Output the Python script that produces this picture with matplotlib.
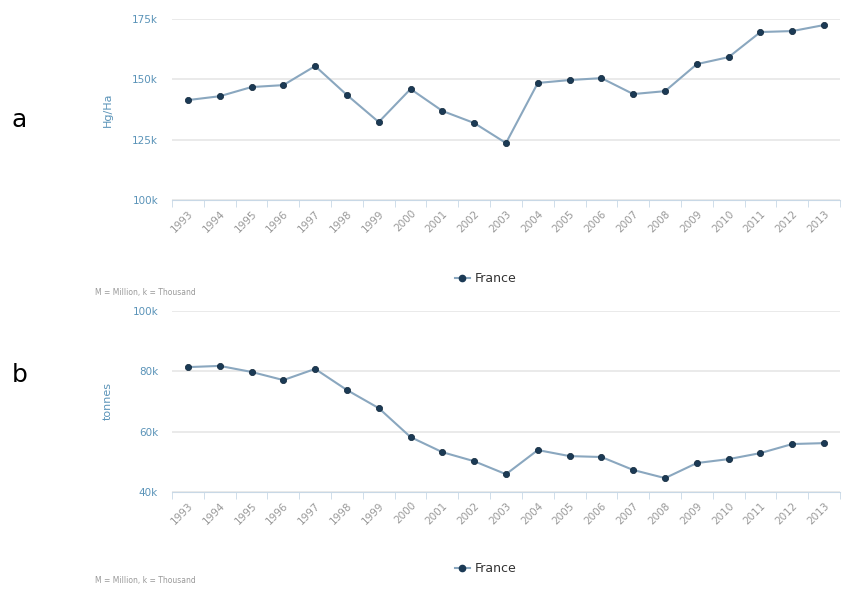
import matplotlib
matplotlib.use("Agg")
import matplotlib.pyplot as plt
import numpy as np

years = [str(y) for y in range(1993, 2014)]
yield_hgha = [141.4, 143.0, 146.8, 147.6, 155.5, 143.5, 132.3, 146.0, 136.9, 131.9, 123.6,
              148.5, 149.7, 150.5, 143.9, 145.1, 156.3, 159.2, 169.6, 170.0, 172.5]
prod_tonnes = [81.4, 81.8, 79.8, 77.1, 80.8, 73.8, 67.8, 58.2, 53.2, 50.2, 45.9,
               53.9, 51.9, 51.6, 47.3, 44.6, 49.6, 50.9, 52.9, 55.9, 56.2]
yticks_a = [100, 125, 150, 175]
yticks_b = [40, 60, 80, 100]
series_name = "France"
note = "M = Million, k = Thousand"

W, H = 854, 589
fig = plt.figure(figsize=(W / 100, H / 100), dpi=100)
fig.patch.set_facecolor("white")

LINE = "#8aa7bf"
MARK = "#1b3a55"
TICKC = "#5a93b8"
XLAB = "#999999"

def px_axes(x0, y0, x1, y1):
    return fig.add_axes([x0 / W, 1 - y1 / H, (x1 - x0) / W, (y1 - y0) / H])

def draw(ax, vals, yticks, ylabel):
    x = np.arange(len(years))
    ax.plot(x, vals, color=LINE, lw=1.5, zorder=3)
    ax.plot(x, vals, 'o', color=MARK, ms=4.5, zorder=4, markeredgecolor="#0f2538", markeredgewidth=0.5)
    ax.set_xlim(-0.43, len(years) - 1 + 0.15)
    ax.set_ylim(yticks[0], yticks[-1])
    ax.set_yticks(yticks)
    ax.set_yticklabels([f"{v}k" for v in yticks], color=TICKC, fontsize=7.5)
    ax.yaxis.grid(True, color="#e6e6e6", lw=1.2)
    ax.set_axisbelow(True)
    for s in ["top", "right", "left"]:
        ax.spines[s].set_visible(False)
    ax.spines["bottom"].set_color("#c8d8e6")
    ax.tick_params(axis="y", length=0, pad=10)
    ax.set_xticks(x)
    ax.set_xticklabels(years, rotation=45, ha="right", rotation_mode="anchor",
                       color=XLAB, fontsize=7.5)
    ax.set_xticks(np.arange(-0.5, len(years) - 0.4, 1), minor=True)
    ax.tick_params(axis="x", which="major", length=0, pad=6)
    ax.tick_params(axis="x", which="minor", length=5, color="#c8d8e6")
    ax.set_ylabel(ylabel, color=TICKC, fontsize=8, labelpad=14)

ax1 = px_axes(172, 19, 840, 200)
draw(ax1, yield_hgha, yticks_a, "Hg/Ha")
ax2 = px_axes(172, 311, 840, 492)
draw(ax2, prod_tonnes, yticks_b, "tonnes")

# legends
for yy in (278, 568):
    fig.lines.append(plt.Line2D([455 / W, 470 / W], [1 - yy / H] * 2, color=LINE, lw=1.5,
                                transform=fig.transFigure))
    fig.lines.append(plt.Line2D([462.5 / W], [1 - yy / H], marker='o', color=MARK, ms=4.5,
                                transform=fig.transFigure))
    fig.text(475 / W, 1 - yy / H, series_name, fontsize=9, color="#333333", va="center", ha="left")

fig.text(95 / W, 1 - 292 / H, note, fontsize=5.5, color="#999999", va="center")
fig.text(95 / W, 1 - 580 / H, note, fontsize=5.5, color="#999999", va="center")

fig.text(12 / W, 1 - 120 / H, "a", fontsize=18, color="black", va="center")
fig.text(12 / W, 1 - 375 / H, "b", fontsize=18, color="black", va="center")

fig.savefig("out.png", dpi=100, facecolor="white")
